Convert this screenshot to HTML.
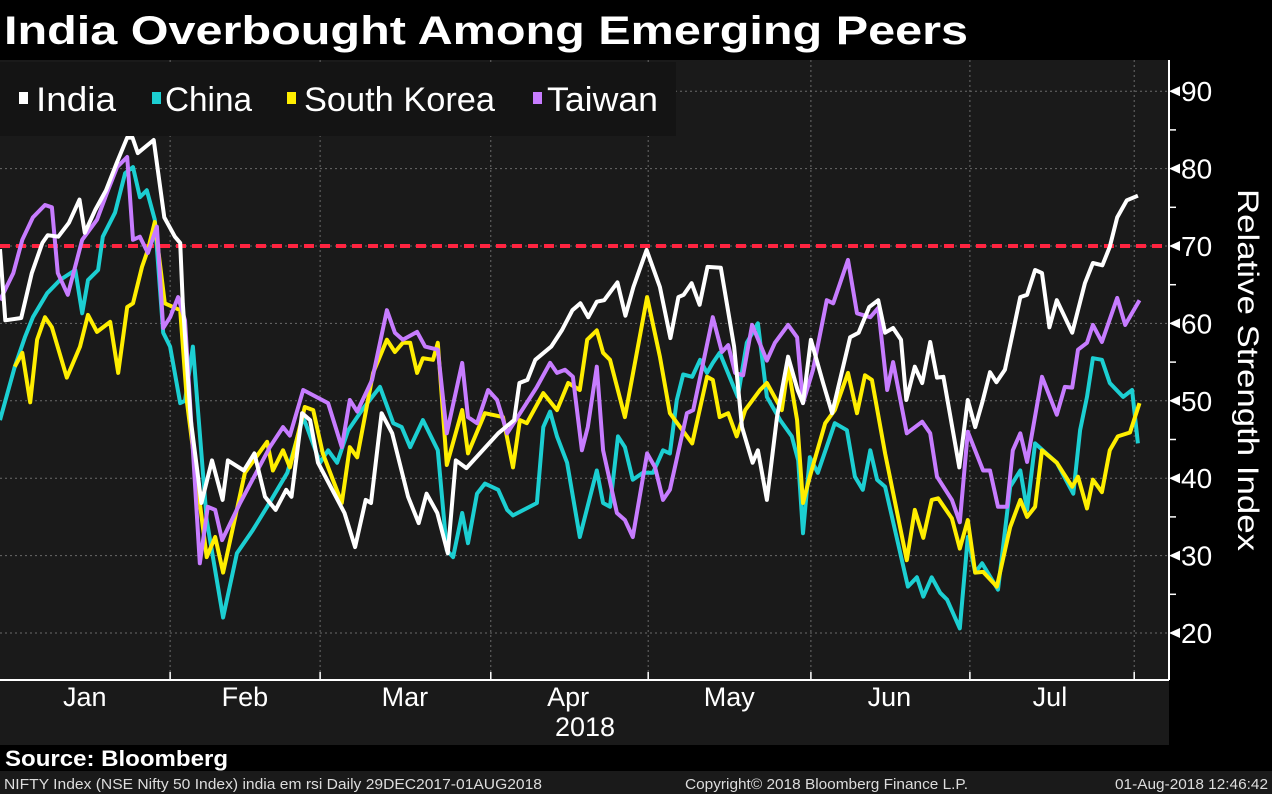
<!DOCTYPE html>
<html><head><meta charset="utf-8"><style>
html,body{margin:0;padding:0;background:#000;}
svg{display:block;font-family:"Liberation Sans",sans-serif;}
</style></head><body>
<svg id="chart" width="1272" height="794" viewBox="0 0 1272 794" xmlns="http://www.w3.org/2000/svg">
<rect x="0" y="0" width="1272" height="794" fill="#000"/>
<rect x="0" y="60" width="1169" height="685" fill="#1a1a1a"/>
<rect x="0" y="771" width="1272" height="23" fill="#1a1a1a"/>
<text x="4" y="44" fill="#fff" font-size="40" font-weight="bold" textLength="964" lengthAdjust="spacingAndGlyphs">India Overbought Among Emerging Peers</text>
<g id="grid"></g>
<g id="series"></g>
<g id="legend"></g>
<g id="axes"></g>
<text transform="translate(1238,370) rotate(90)" text-anchor="middle" fill="#fff" font-size="30" textLength="362" lengthAdjust="spacingAndGlyphs">Relative Strength Index</text>
<text x="5" y="766" fill="#fff" font-size="22" font-weight="bold" textLength="223" lengthAdjust="spacingAndGlyphs">Source: Bloomberg</text>
<text x="4" y="789" fill="#ddd" font-size="15" textLength="538" lengthAdjust="spacingAndGlyphs">NIFTY Index (NSE Nifty 50 Index) india em rsi  Daily 29DEC2017-01AUG2018</text>
<text x="685" y="789" fill="#ddd" font-size="15" textLength="283" lengthAdjust="spacingAndGlyphs">Copyright© 2018 Bloomberg Finance L.P.</text>
<text x="1268" y="789" text-anchor="end" fill="#ddd" font-size="15" textLength="153" lengthAdjust="spacingAndGlyphs">01-Aug-2018 12:46:42</text>
</svg>
<script>
const indiaDays=[0,1,4,6,8,9,11,13,15,16,18,20,22,24,25,26,29,31,33,34,34.5,36,38,40,42,43,46,48,50,52,54,55,57,58.5,60,65,67,69,70,72,74,77,79,80.5,82.5,84.5,86,88,94,97,98,99.5,101,104,106,108,109.5,111,112.6,114,116.5,118,119.5,122,124.5,126.5,128,129,130.5,132,133.5,136,138.5,140,142,143,144.7,146.6,148.7,150.5,151.5,153,155.3,157,160.4,162,164,165.7,167,168.5,170,171,172.6,174,175.5,176.8,178,181,182.6,184,185.3,186.8,188,189.6,192.5,193.8,195.3,196.6,198,199.4,202.3,204.7,206.2,208,209.4,210.8,212.6,214.7];
const indiaRSI=[69.6,60.4,60.7,66.5,70.4,71.4,71.2,73,76,71.7,74.7,77.2,80.7,84,84,82,83.7,73.7,71.2,70.4,62.6,47.5,36.8,42.3,37.2,42.3,41,43.2,37.6,35.9,38.5,37.6,48.4,47.5,42,35.5,31.1,37.2,36.8,48.4,45.8,37.6,34.2,38,35.5,30.3,42.3,41.3,45.8,47.5,52.3,52.7,55.3,57,59.1,61.7,62.6,60.8,62.8,63,65.3,61,64.7,69.5,64.7,58.1,63.4,63.7,65.2,62.4,67.3,67.2,57,46.6,42,43.6,37.2,47.9,55.7,51.4,49.7,57.9,52.3,48.4,58.2,58.8,62.1,63,58.8,59.4,57.9,50.1,54.4,52.3,57.6,53,53.1,41.4,50.1,46.6,49.7,53.7,52.4,54,63.4,63.7,66.9,66.5,59.5,63,58.8,65.2,67.8,67.5,69.9,73.7,75.9,76.5];
const chinaDays=[0,2.8,4.7,6.2,8.9,11.3,14.2,15.5,16.6,18.5,19.4,21.7,23.6,25.1,26.4,27.7,29.2,30.8,32.1,34,34.9,36.4,39,42.1,44.7,47.7,50.4,54.2,57.2,60.4,61.9,63.6,65.7,68.5,71.7,74.2,75.8,77.4,79.8,82.6,84.3,85.5,87.2,88.3,90,91.5,94,95.7,96.8,101.3,102.5,103.8,105.1,107,109.4,112.6,113.8,115.1,116.6,117.9,119.4,121.3,123.2,125.1,126.4,127.7,128.9,130.6,132.1,133.4,134.5,135.8,139.2,140.9,143,144.7,147.2,149.4,150.6,151.5,152.8,154.3,157.5,159.8,161.3,162.8,164.2,165.5,167,171.3,173,174.2,175.8,177.4,178.7,181.1,182.6,184,185.3,188.3,190.6,192.5,193.8,195.3,199.4,202.5,203.8,205.1,206.2,207.9,209.4,211.9,213.6,214.7];
const chinaRSI=[47.5,54.4,58.2,60.8,63.9,65.6,66.9,61.3,65.6,66.9,71.2,74.3,79.4,80.2,76.3,77.2,73.4,58.8,57,49.7,50,57,34.6,22,30.3,33.3,36.3,40.7,47.9,42,43.6,42,46.2,49,51.8,47.1,46.6,44,47.5,43.6,30.7,29.8,35.5,31.6,38,39.3,38.5,35.9,35.2,36.8,46.6,48.6,45.4,42,32.4,41,36.8,36.3,45.4,44,39.8,40.7,40.7,43.6,43.2,50.1,53.4,53.1,55.3,53.6,54.9,56.2,50.5,57.5,60,50.5,47.5,45.4,42.3,32.9,42.7,40.7,47.1,46.2,40.2,38.5,43.6,39.8,38.9,26,27.2,24.7,27.2,25.2,24.3,20.6,32.4,27.8,29,25.6,38.9,41,35.9,44.5,42,38,46.2,50.5,55.5,55.3,52.3,50.5,51.4,44.5];
const koreaDays=[2.8,4.2,5.7,7,8.5,9.8,12.6,15.1,16.6,18.3,20.8,22.3,24,25.1,26.8,27.9,29.2,31.1,34,35.3,39,40.6,42.1,46.2,50.4,51.5,53.4,54.7,57.5,59.1,60.9,64.5,66,67.4,70.4,73,74.5,76,77.4,78.7,79.8,81.7,82.6,84.3,87.2,88.3,91.5,94.9,96.8,98.1,99.4,102.5,105.1,107.2,109.4,110.8,112.6,113.8,115.1,117.9,122.1,124.5,126.4,130.6,133.4,134.5,135.8,137.4,139,140.6,143.4,144.7,147.5,148.7,150.4,151.5,152.8,155.7,157.5,160,161.7,163.2,164.5,167,171.1,172.6,174.2,175.8,177,179.6,181.1,182.6,184,185.5,188.1,190.6,192.5,193.8,195.3,196.6,199.4,202.3,203.4,205.1,206.2,207.9,209.4,210.9,213.2,215];
const koreaRSI=[54.4,56.2,49.8,57.9,60.8,59.5,53,57,61.1,58.9,60.2,53.6,62.1,62.6,67.3,69.5,73.1,62.6,61.7,49.7,29.8,32.4,27.8,40.7,44.7,41,43.6,41.4,49.2,48.8,43.2,36.8,44,42.7,53.6,57.9,56.3,57.5,57.5,53.6,55.5,55.3,57.5,41.7,48.8,43.2,48.4,47.9,41.4,47.5,47.1,51,48.8,52.3,51.4,57.9,59.1,56.2,55.3,47.9,63.4,55.7,48.4,44.5,53.1,52.7,47.9,48.4,45.4,48.8,51.4,52.3,48.8,54.4,47.5,36.8,40.2,47.1,48.8,53.6,48.4,53.3,52.7,43.2,29.4,35.9,32.3,37.2,37.4,34.8,30.9,34.6,27.8,27.9,26,33.7,37.2,35,36.3,43.6,42,38.9,40.2,36.1,39.8,38.2,43.6,45.4,45.9,49.7];
const taiwanDays=[0,2.5,4.2,6.2,8.5,9.8,10.9,12.8,15.5,18.3,20.2,22.1,24,25.1,26.4,27.9,29.6,30.8,32.1,33.6,34.9,37.7,39.2,40.6,41.9,45.3,50.9,53.4,54.7,57.2,61.9,64.5,66,67.4,70.2,73,74.5,76,78.7,80.2,82.6,84.3,87.2,88.3,90,92.1,93.8,95.7,101.3,103.8,105.1,106.6,108.1,109.8,110.9,112.6,113.8,116.4,117.9,119.4,122.1,123.6,125.1,126.4,129.6,130.8,134.5,136.2,137.4,138.7,140.2,141.9,144.7,146.2,148.7,150.4,151.5,153.4,156,157.2,160,161.7,164.2,165.7,167.4,168.5,171.1,174,175.5,176.8,179.6,181.1,182.6,185.5,186.8,188.3,190,191.1,192.5,193.8,196.6,199.4,200.9,202.3,203.4,205.1,206.2,207.9,210.8,212.3,215];
const taiwanRSI=[63,66.5,70.8,73.7,75.3,75,66.5,63.7,70.8,73.4,76.9,80.2,81.5,70.8,71.2,69.1,72.5,59.4,60.8,63.4,60.4,29,36.3,35.9,32,36.8,44,46.6,45.5,51.4,49.7,44,50.1,48.6,52.7,61.7,58.8,57.9,58.9,57,56.6,45.8,54.9,47.9,47.1,51.4,50.1,45.8,51.8,54.9,53.6,54,53.1,43.6,46.6,54.4,43.6,35.5,34.6,32.4,43.2,41.4,37.2,38.5,48.4,48.8,60.8,56.3,57.2,53.6,53.3,59.8,55.2,57.5,59.8,58.2,49.7,54,63,62.6,68.2,61.3,60.8,62,51.4,55,45.8,47.3,45.8,40.2,37.2,34.3,46,41,41,36.3,36.3,43.6,45.8,42.1,53.1,48.2,51.8,51.7,56.6,57.5,59.8,57.6,63.3,59.8,63];
const yTicks=[20,30,40,50,60,70,80,90];
const monthLabels=["Jan","Feb","Mar","Apr","May","Jun","Jul"];
const monthBoundaryDays=[32.1,60.4,92.6,122.3,153,183,214];
const monthLabelDays=[16,46.2,76.4,107.2,137.6,167.8,198.1];
const overboughtLevel=70;

const NS="http://www.w3.org/2000/svg";
const X0=0,X1=1139.5,D0=0,D1=215;
const Y20=633,PX10=77.4;
function xs(d){return X0+(d-D0)/(D1-D0)*(X1-X0);}
function ys(v){return Y20-(v-20)*PX10/10;}
function mk(tag,attrs,parent){const e=document.createElementNS(NS,tag);for(const k in attrs)e.setAttribute(k,attrs[k]);parent.appendChild(e);return e;}
const grid=document.getElementById('grid'),axes=document.getElementById('axes'),ser=document.getElementById('series'),leg=document.getElementById('legend');

yTicks.forEach(v=>{
  const l=mk('line',{x1:0,x2:1169,y1:ys(v),y2:ys(v),stroke:'#6a6a6a','stroke-width':1,'stroke-dasharray':'2,3'},grid);
  
  
  const t=mk('text',{x:1181,y:ys(v)+10,fill:'#fff','font-size':28},axes);
  t.textContent=v;
  
  
  const tri=mk('path',{d:`M1169 ${ys(v)} l11 -5 v10 z`,fill:'#fff'},axes);
  
  
  if(v<90){const m=mk('line',{x1:1169,x2:1176,y1:ys(v+5),y2:ys(v+5),stroke:'#fff','stroke-width':1.5},axes);
  
  }
});
monthBoundaryDays.forEach(d=>{
  const l=mk('line',{x1:xs(d),x2:xs(d),y1:60,y2:680,stroke:'#6a6a6a','stroke-width':1,'stroke-dasharray':'2,3'},grid);
  
  
  const t=mk('line',{x1:xs(d),x2:xs(d),y1:680,y2:672,stroke:'#fff','stroke-width':1.5},axes);
  
  
});
monthLabels.forEach((m,i)=>{
  const t=mk('text',{x:xs(monthLabelDays[i]),y:706,fill:'#fff','font-size':27,'text-anchor':'middle'},axes);
  t.textContent=m;
  
  
});
const yr=mk('text',{x:585,y:736,fill:'#fff','font-size':27,'text-anchor':'middle'},axes);
yr.textContent='2018';


const ax=mk('line',{x1:0,x2:1169,y1:680,y2:680,stroke:'#fff','stroke-width':2},axes);


const ay=mk('line',{x1:1169,x2:1169,y1:60,y2:680,stroke:'#fff','stroke-width':2},axes);



const ob=mk('line',{x1:0,x2:1169,y1:ys(overboughtLevel),y2:ys(overboughtLevel),stroke:'#ff2440','stroke-width':4,'stroke-dasharray':'10,6'},ser);



function line(days,vals,color,name){
  const d=days.map((x,i)=>(i?'L':'M')+xs(x).toFixed(1)+' '+ys(vals[i]).toFixed(1)).join(' ');
  const p=mk('path',{d:d,fill:'none',stroke:color,'stroke-width':4,'stroke-linejoin':'round'},ser);
  
  
}
line(chinaDays,chinaRSI,'#1ccfd2','china-line');
line(koreaDays,koreaRSI,'#ffee00','south-korea-line');
line(taiwanDays,taiwanRSI,'#c77cff','taiwan-line');
line(indiaDays,indiaRSI,'#ffffff','india-line');

const legendNames=["India","China","South Korea","Taiwan"];
const legendColors=["#ffffff","#1ccfd2","#ffee00","#c77cff"];
const legendX=[36,165,304,547];
const legendW=[80,87,191,111];
const swatchX=[19,152,287,533];
mk('rect',{x:0,y:62,width:676,height:74,fill:'#141414'},leg);
legendNames.forEach((n,i)=>{
  const r=mk('rect',{x:swatchX[i],y:92,width:9,height:12,fill:legendColors[i]},leg);
  
  
  const t=mk('text',{x:legendX[i],y:111,fill:'#fff','font-size':34,textLength:legendW[i],lengthAdjust:'spacingAndGlyphs'},leg);
  t.textContent=n;
  
  
});
</script>
</body></html>
